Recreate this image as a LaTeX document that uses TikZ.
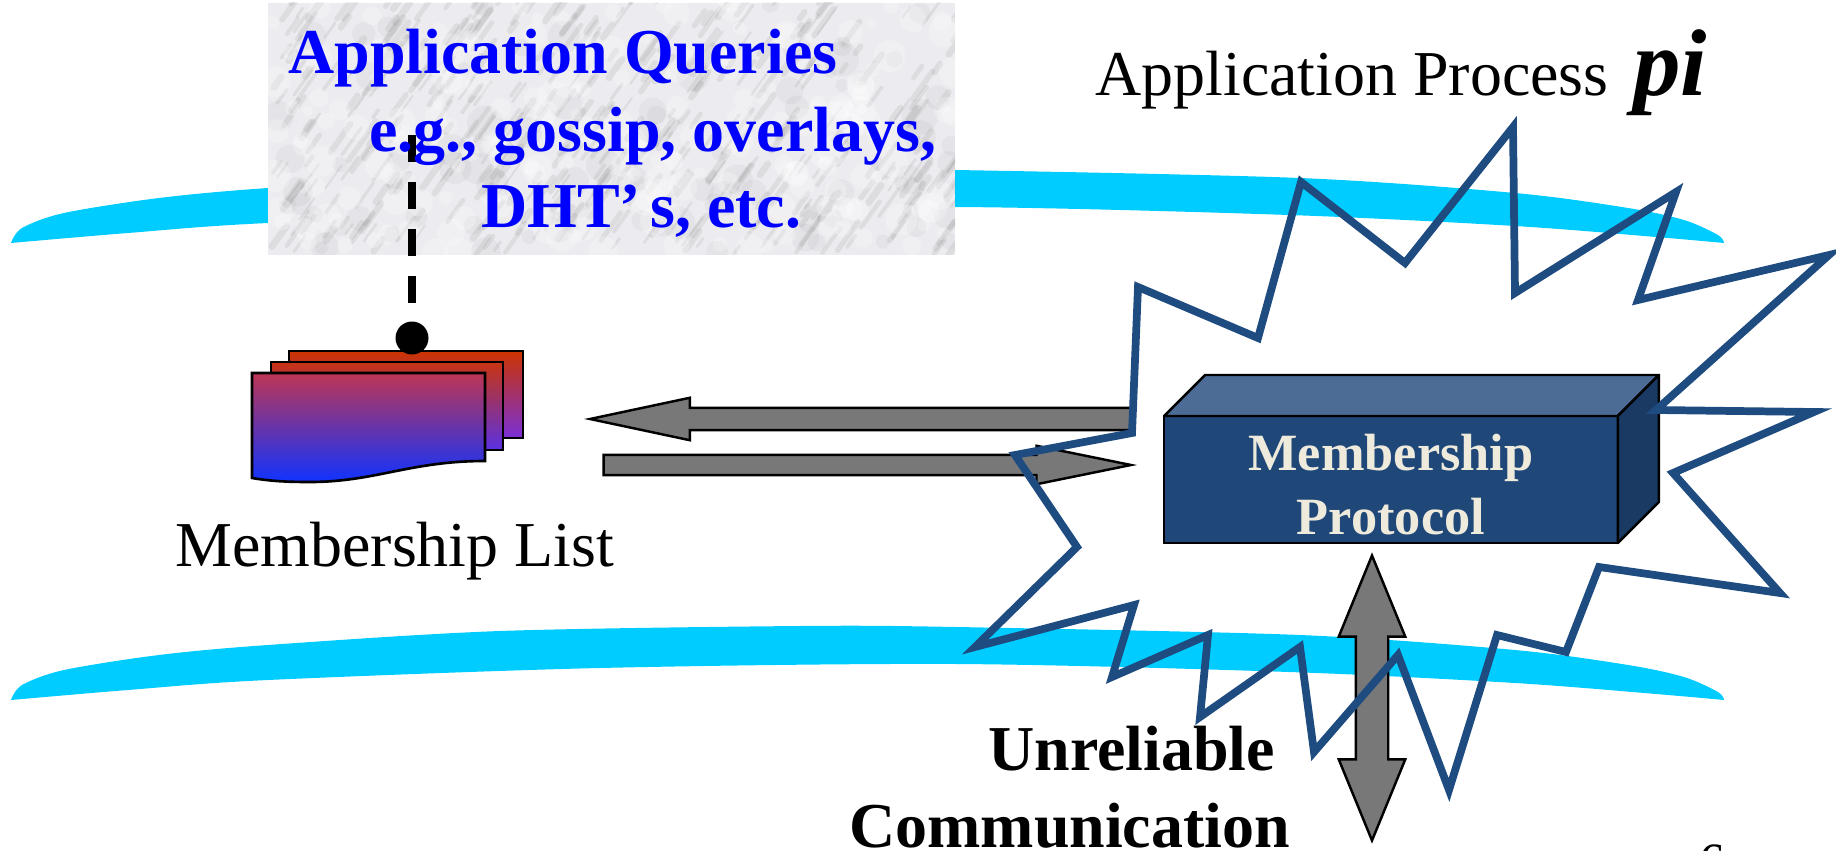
\documentclass[tikz,border=0pt]{standalone}
\usepackage{fontspec}
\setmainfont{Liberation Serif}
\usetikzlibrary{positioning}
\usetikzlibrary{calc}
\usetikzlibrary{shapes.arrows}

\definecolor{bandblue}{HTML}{00CCFF}
\definecolor{starblue}{HTML}{1F4C80}
\definecolor{boxfront}{HTML}{1F4778}
\definecolor{boxtop}{HTML}{4C6C96}
\definecolor{boxside}{HTML}{1A3A64}
\definecolor{boxtext}{HTML}{EEEBDD}
\definecolor{arrowgray}{HTML}{787878}
\definecolor{marblebase}{HTML}{ECECF0}
\definecolor{sheetred}{HTML}{CC3300}
\definecolor{sheetmid}{HTML}{B038A8}
\definecolor{sheetviolet}{HTML}{7A30D8}
\definecolor{sheetblue}{HTML}{1033FF}

\tikzset{
    plaintext/.style={anchor=base west,inner sep=0,font=\fontsize{36.4}{36.4}\selectfont},
    boldtext/.style={plaintext,font=\fontsize{36.4}{36.4}\selectfont\bfseries},
    querytext/.style={boldtext,text=blue},
    blockarrow/.style={draw=black,fill=arrowgray,line width=1.4pt,outer sep=0},
    sheet/.style={draw=black,line width=1.5pt},
}

\begin{document}
\begin{tikzpicture}[x=0.02cm,y=-0.02cm]
            \useasboundingbox (0,0) rectangle (1836,851);

            \foreach \dy in {0,457} {
                \fill[bandblue,shift={(0,\dy)}] plot[smooth] coordinates {(11,243) (22,228) (64,213) (159,198) (268,188) (500,174) (800,169) (956,170) (1300,178) (1515,193) (1628,208) (1684,220) (1718,235) (1724,243)}
                    -- plot[smooth] coordinates {(1724,243) (1656,237) (1515,226) (1289,215) (956,207) (600,211) (268,223) (128,233) (11,243)} -- cycle;
            }

            \fill[marblebase] (268,3) rectangle (955,255);
            \begin{scope}
                \clip (268,3) rectangle (955,255);
                \pgfmathsetseed{41}
                \foreach \i in {1,...,420} {
                    \pgfmathsetmacro{\mx}{268+687*rnd}
                    \pgfmathsetmacro{\my}{3+252*rnd}
                    \pgfmathsetmacro{\ml}{5+16*rnd}
                    \pgfmathsetmacro{\mw}{1+3*rnd}
                    \draw[black!60,opacity=0.11,line width=\mw pt,line cap=round] (\mx,\my) -- ++(\ml,-1.4*\ml);
                }
                \foreach \i in {1,...,90} {
                    \pgfmathsetmacro{\mx}{268+687*rnd}
                    \pgfmathsetmacro{\my}{3+252*rnd}
                    \fill[black!50,opacity=0.07] (\mx,\my) circle (6+12*rnd);
                }
                \foreach \i in {1,...,220} {
                    \pgfmathsetmacro{\mx}{268+687*rnd}
                    \pgfmathsetmacro{\my}{3+252*rnd}
                    \fill[white,opacity=0.25] (\mx,\my) circle (5+11*rnd);
                }
            \end{scope}

            \shade[sheet,top color=sheetred,middle color=sheetmid!70!sheetred,bottom color=sheetviolet] (289,351) rectangle (523,438);
            \shade[sheet,top color=sheetred!90!sheetmid,middle color=sheetmid!80!sheetred,bottom color=sheetviolet!70!sheetblue] (271,362) rectangle (503,450);
            \shade[sheet,top color=sheetred!50!sheetmid,middle color=sheetviolet!85!sheetmid,bottom color=sheetblue,draw=black] (252,373) -- (485,373) -- (485,461)
                .. controls (410,461) and (375,482) .. (310,482) .. controls (285,482) and (270,481) .. (252,478) -- cycle;

            \coordinate (querylink) at (412,135);
            \node[circle,fill=black,minimum size=0.66cm,inner sep=0] (listdot) at (412,338) {};
            \draw[line width=4pt,dash pattern=on 15.3pt off 11.4pt] (querylink) -- (listdot.north);

            \node[querytext] (queries) at (288,74) {Application Queries};
            \node[querytext] (examples) at (369,152) {e.g., gossip, overlays,};
            \node[querytext] (dhts) at (481,228) {DHT’\hspace{0.14em}s, etc.};

            \node[plaintext] (listlabel) at (175,566) {Membership List};
            \node[plaintext] (processlabel) at (1095,96) {Application Process};
            \node[anchor=base west,inner sep=0,font=\fontsize{54}{54}\selectfont\bfseries\itshape] (pilabel) at (1633,96) {pi};

            \node[blockarrow,single arrow,shape border rotate=180,anchor=tip,inner xsep=0,inner ysep=0.2cm,minimum height=10.85cm,minimum width=0.8cm,single arrow head extend=0.2cm,single arrow tip angle=24] (toList) at (590,419) {};
            \node[blockarrow,single arrow,anchor=tip,inner xsep=0,inner ysep=0.18cm,minimum height=10.55cm,minimum width=0.72cm,single arrow head extend=0.18cm,single arrow tip angle=23] (toProtocol) at (1131,465) {};
            \node[blockarrow,double arrow,shape border rotate=90,inner sep=0.3cm,minimum height=5.7cm,minimum width=1.28cm,double arrow head extend=0.34cm,double arrow tip angle=44.6] (toNetwork) at (1372,698) {};

            \node[draw=black,fill=boxfront,line width=1.4pt,minimum width=9.08cm,minimum height=2.54cm,inner sep=0,outer sep=0,align=center,text=boxtext,font=\fontsize{29.8}{36.4}\selectfont\bfseries] (protocol) at (1391,479.5) {\rule{0pt}{27pt}Membership\\Protocol};
            \draw[fill=boxtop,line width=1.4pt,line join=round] (protocol.north west) -- ++(41,-41) -- ($(protocol.north east)+(41,-41)$) -- (protocol.north east) -- cycle;
            \draw[fill=boxside,line width=1.4pt,line join=round] (protocol.north east) -- ++(41,-41) -- ($(protocol.south east)+(41,-41)$) -- (protocol.south east) -- cycle;

            \draw[starblue,line width=4.4pt,miter limit=10] (1015,455) -- (1132,433) -- (1138,287) -- (1258,338) -- (1301,182) -- (1405,263) -- (1513,127) -- (1515,293) -- (1676,192) -- (1638,300) -- (1829,255) -- (1656,410) -- (1814,412) -- (1673,473) -- (1780,593) -- (1599,567) -- (1566,652) -- (1497,635) -- (1449,790) -- (1398,655) -- (1314,752) -- (1300,647) -- (1200,717) -- (1208,635) -- (1112,677) -- (1134,605) -- (975,647) -- (1077,547) -- cycle;

            \node[boldtext] (unreliable) at (988,770) {Unreliable};
            \node[boldtext] (communication) at (849,847) {Communication};
            \node[anchor=base west,inner sep=0,font=\fontsize{29}{29}\selectfont] (pagenumber) at (1699,878) {6};
        \end{tikzpicture}
\end{document}
